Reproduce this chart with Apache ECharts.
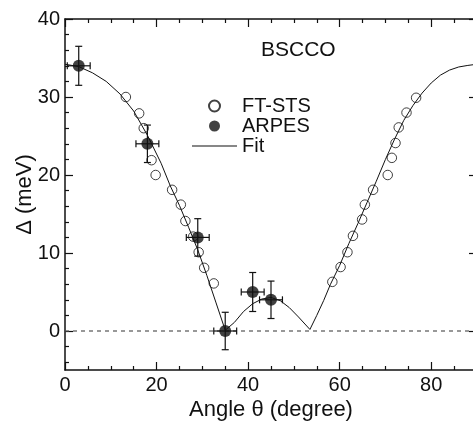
<!DOCTYPE html>
<html>
<head>
<meta charset="utf-8">
<script src="https://cdn.jsdelivr.net/npm/echarts@6/dist/echarts.min.js"></script>
<style>
  html, body { margin: 0; padding: 0; background: #fff; }
  #chart { width: 473px; height: 421px; }
</style>
</head>
<body>
<div id="chart"></div>
<script>
// FT-STS (open circles)
var ftstsX = [13.3, 16.2, 17.2, 18.9, 19.8, 23.4, 25.3, 26.3, 28.0, 29.2, 30.4, 32.5,
  58.4, 60.2, 61.7, 62.9, 64.9, 65.5, 67.3, 70.5, 71.4, 72.2, 72.9, 74.6, 76.7]
var ftstsY = [30.0, 27.9, 26.0, 21.9, 20.0, 18.1, 16.2, 14.1, 12.1, 10.1, 8.1, 6.1,
  6.3, 8.2, 10.1, 12.2, 14.3, 16.2, 18.1, 20.0, 22.2, 24.1, 26.1, 28.0, 29.9]

// ARPES (filled circles with error bars)
var arpesX = [3, 18, 29, 35, 41, 45]
var arpesY = [34, 24, 12, 0, 5, 4]
var arpesXErr = [2.5, 2.5, 2.5, 2.5, 2.5, 2.5]
var arpesYErr = [2.5, 2.4, 2.4, 2.4, 2.5, 2.4]

// fit curve
var fitX = [0, 3, 6, 9, 12, 15, 18, 21, 23, 25, 27, 29, 31, 33, 35, 37, 39, 41, 43, 45, 47, 49, 51, 53.5,
  55, 56.5, 58, 60, 62, 64, 66, 68, 70, 72, 74, 76, 78, 80, 82, 84, 86, 88, 90]
var fitY = [34.2, 33.9, 33.1, 32.0, 30.4, 28.2, 25.1, 21.5, 18.6, 16.1, 13.3, 10.4, 7.1, 3.6, 0.1, 1.1, 2.5, 3.5, 4.1, 4.3, 3.9, 3.0, 1.8, 0.2,
  2.0, 3.9, 6.0, 8.4, 11.2, 13.8, 16.5, 19.2, 22.0, 24.6, 27.0, 28.9, 30.5, 31.8, 32.8, 33.45, 33.85, 34.05, 34.2]

var zeroX = [0, 90]
var zeroY = [0, 0]

// ticks
var xMajorTicks = [0, 20, 40, 60, 80]
var xMinorTicks = [5, 10, 15, 25, 30, 35, 45, 50, 55, 65, 70, 75, 85]
var yMajorTicks = [0, 10, 20, 30, 40]
var yMinorTicks = [-4, -2, 2, 4, 6, 8, 12, 14, 16, 18, 22, 24, 26, 28, 32, 34, 36, 38]

var font = '"Liberation Sans", Arial, Helvetica, sans-serif'
var ink = '#111'

function zip (a, b) {
  return a.map(function (v, i) { return [v, b[i]] })
}

function xAxisDef (pos, major, showLine) {
  return {
    type: 'value',
    position: pos,
    min: 0,
    max: 90,
    splitLine: { show: false },
    axisLine: { show: showLine, onZero: false, lineStyle: { color: ink, width: 1.5 } },
    axisTick: {
      inside: true,
      length: major ? 8 : 4,
      customValues: major ? xMajorTicks : xMinorTicks,
      lineStyle: { color: ink, width: 1.2 }
    },
    axisLabel: { show: false }
  }
}

function yAxisDef (pos, major, showLine) {
  return {
    type: 'value',
    position: pos,
    min: -5,
    max: 40,
    splitLine: { show: false },
    axisLine: { show: showLine, onZero: false, lineStyle: { color: ink, width: 1.5 } },
    axisTick: {
      inside: true,
      length: major ? 8 : 4,
      customValues: major ? yMajorTicks : yMinorTicks,
      lineStyle: { color: ink, width: 1.2 }
    },
    axisLabel: { show: false }
  }
}

var xMain = xAxisDef('bottom', true, true)
xMain.axisLabel = { show: true, customValues: xMajorTicks, fontSize: 20, fontFamily: font, color: ink, margin: 5 }
xMain.name = 'Angle θ (degree)'
xMain.nameLocation = 'middle'
xMain.nameGap = 29
xMain.nameMoveOverlap = false
xMain.nameTextStyle = { fontSize: 22, fontFamily: font, color: ink }

var yMain = yAxisDef('left', true, true)
yMain.axisLabel = { show: true, customValues: yMajorTicks, fontSize: 20, fontFamily: font, color: ink, margin: 5 }
yMain.name = 'Δ (meV)'
yMain.nameLocation = 'middle'
yMain.nameGap = 29
yMain.nameMoveOverlap = false
yMain.nameTextStyle = { fontSize: 22, fontFamily: font, color: ink }

var myChart = echarts.init(document.getElementById('chart'))

var option = {
  animation: false,
  backgroundColor: '#fff',
  title: {
    text: 'BSCCO',
    left: 256,
    top: 35,
    textStyle: { fontSize: 21, fontWeight: 'normal', fontFamily: font, color: ink }
  },
  legend: {
    data: [
      { name: 'FT-STS' },
      { name: 'ARPES' },
      { name: 'Fit', icon: 'path://M0,0 L45,0 L45,1.2 L0,1.2 Z' }
    ],
    orient: 'vertical',
    left: 192,
    top: 96,
    padding: 0,
    itemWidth: 45,
    itemHeight: 11,
    itemGap: 0,
    textStyle: { fontSize: 20, fontFamily: font, color: ink, lineHeight: 20 }
  },
  grid: { left: 65, top: 19, width: 412, height: 351, outerBoundsMode: 'none', containLabel: false },
  xAxis: [
    xMain,
    xAxisDef('bottom', false, false),
    xAxisDef('top', true, true),
    xAxisDef('top', false, false)
  ],
  yAxis: [
    yMain,
    yAxisDef('left', false, false),
    yAxisDef('right', true, true),
    yAxisDef('right', false, false)
  ],
  series: [
    {
      name: 'zero',
      type: 'line',
      data: zip(zeroX, zeroY),
      symbol: 'none',
      silent: true,
      lineStyle: { color: '#555', width: 1.2, type: [4, 4] },
      z: 1
    },
    {
      name: 'Fit',
      type: 'line',
      data: zip(fitX, fitY),
      symbol: 'none',
      lineStyle: { color: ink, width: 1 },
      itemStyle: { color: ink },
      z: 2
    },
    {
      name: 'FT-STS',
      type: 'scatter',
      data: zip(ftstsX, ftstsY),
      symbol: 'circle',
      symbolSize: 9.5,
      itemStyle: { color: 'rgba(0,0,0,0)', borderColor: ink, borderWidth: 1 },
      z: 3
    },
    {
      name: 'errors',
      type: 'custom',
      data: arpesX.map(function (x, i) { return [x, arpesY[i], arpesXErr[i], arpesYErr[i]] }),
      renderItem: function (params, api) {
        var x = api.value(0)
        var y = api.value(1)
        var ex = api.value(2)
        var ey = api.value(3)
        var l = api.coord([x - ex, y])
        var r = api.coord([x + ex, y])
        var t = api.coord([x, y + ey])
        var b = api.coord([x, y - ey])
        var c = 3.5
        var st = { stroke: ink, lineWidth: 1.2 }
        var ln = function (x1, y1, x2, y2) {
          return { type: 'line', shape: { x1: x1, y1: y1, x2: x2, y2: y2 }, style: st }
        }
        return {
          type: 'group',
          children: [
            ln(l[0], l[1], r[0], r[1]),
            ln(l[0], l[1] - c, l[0], l[1] + c),
            ln(r[0], r[1] - c, r[0], r[1] + c),
            ln(t[0], t[1], b[0], b[1]),
            ln(t[0] - c, t[1], t[0] + c, t[1]),
            ln(b[0] - c, b[1], b[0] + c, b[1])
          ]
        }
      },
      z: 4
    },
    {
      name: 'ARPES',
      type: 'scatter',
      data: zip(arpesX, arpesY),
      symbol: 'circle',
      symbolSize: 12,
      itemStyle: { color: ink },
      z: 5
    }
  ]
}

myChart.setOption(option, true)
</script>
</body>
</html>
